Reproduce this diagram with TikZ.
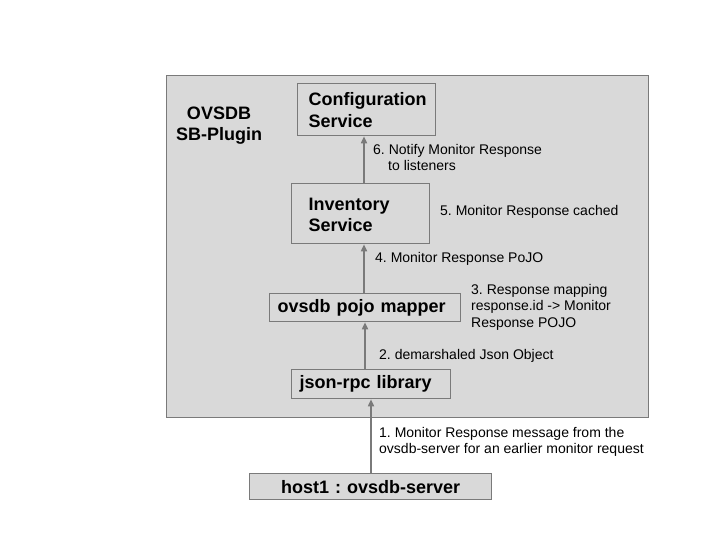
\documentclass[tikz,border=0pt]{standalone}
\usepackage{fontspec}
\setmainfont{Liberation Sans}
\usetikzlibrary{arrows.meta}
\definecolor{fillc}{HTML}{D9D9D9}
\definecolor{edgec}{HTML}{7A7A7A}
\begin{document}
\frenchspacing
\begin{tikzpicture}[x=1pt,y=-1pt,
  box/.style={draw=edgec, fill=fillc, line width=1.3pt, anchor=north west, inner ysep=0pt,
    font=\bfseries\fontsize{18}{22}\selectfont, align=left},
  lbl/.style={anchor=north west, inner sep=0pt, font=\fontsize{14}{16.5}\selectfont, align=left},
  arr/.style={draw=edgec, line width=1.6pt, -{Triangle[length=7pt,width=6pt]}}]
\fill[white] (0,0) rectangle (720,540);
\useasboundingbox (0,0) rectangle (720,540);
\node[draw=edgec, fill=fillc, line width=1.3pt, anchor=north west, inner sep=0pt,
  minimum width=482pt, minimum height=342pt] (plugin) at (166,75) {};
\node[font=\bfseries\fontsize{18}{21}\selectfont, align=center, inner sep=0pt] (title) at (219,126) {OVSDB\\SB-Plugin};
\node[box, inner xsep=11pt, text width=116pt, minimum height=52pt] (cfg) at (297,83) {Configuration\\Service};
\node[box, inner xsep=17pt, text width=104pt, minimum height=60pt] (inv) at (291,183)
  {\raisebox{-3pt}[\height][\depth]{\begin{tabular}{@{}l@{}}Inventory\\[-1pt]Service\end{tabular}}};
\node[box, inner xsep=8pt, text width=175pt, minimum height=28pt] (map) at (269,293) {ovsdb pojo mapper};
\node[box, inner xsep=8pt, text width=143pt, minimum height=29pt] (rpc) at (291,369) {json-rpc library};
\node[box, inner xsep=10pt, text width=222pt, minimum height=26pt, align=center] (host) at (249,473) {host1 : ovsdb-server};
\draw[arr] (inv.north -| 364,0) -- (cfg.south -| 364,0);
\draw[arr] (map.north -| 364,0) -- (inv.south -| 364,0);
\draw[arr] (rpc.north -| 365,0) -- (map.south -| 365,0);
\draw[arr] (host.north -| 371,0) -- (rpc.south -| 371,0);
\node[lbl] (l6) at (373,144) {6. Notify Monitor Response\\\hspace*{15pt}to listeners};
\node[lbl] (l5) at (440,205) {5. Monitor Response cached};
\node[lbl] (l4) at (375,252) {4. Monitor Response PoJO};
\node[lbl] (l3) at (471,284) {3. Response mapping\\response.id -> Monitor\\Response POJO};
\node[lbl] (l2) at (379,349) {2. demarshaled Json Object};
\node[lbl] (l1) at (379,427) {1. Monitor Response message from the\\ovsdb-server for an earlier monitor request};
\end{tikzpicture}
\end{document}
